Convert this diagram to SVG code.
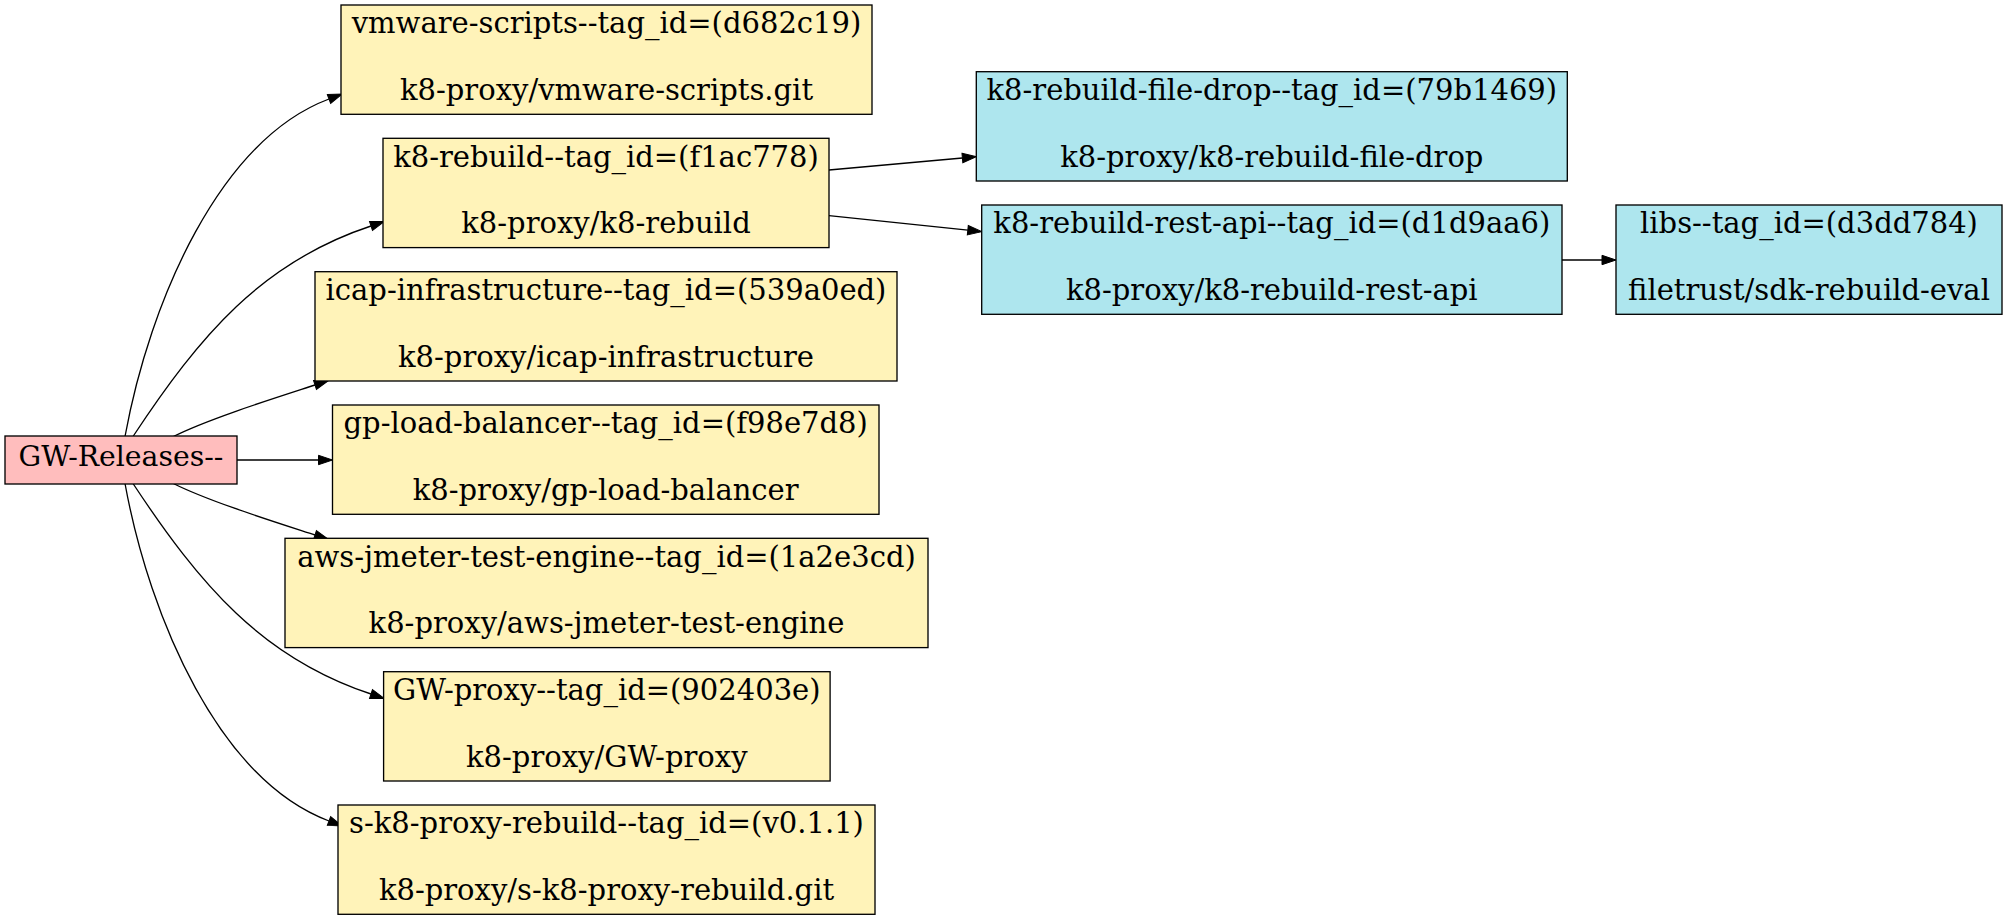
<svg xmlns="http://www.w3.org/2000/svg" width="2007" height="920" viewBox="0 0 2007 920">
<defs>
<style>
.n rect{stroke:#000;stroke-width:1.33}
.y rect{fill:#fff3b9}
.b rect{fill:#aee6ee}
.p rect{fill:#ffbdbd}
text{font-family:"DejaVu Serif","Liberation Serif",serif;font-size:29px;fill:#000;text-anchor:middle}
.p text{font-size:28.3px}
.e path{fill:none;stroke:#000;stroke-width:1.33}
</style>
<marker id="ah" markerUnits="userSpaceOnUse" markerWidth="16" markerHeight="12" refX="0" refY="5" orient="auto" viewBox="0 0 16 10" overflow="visible">
<path d="M0,0.3 L14,5 L0,9.7 z" fill="#000" stroke="#000" stroke-width="1"/>
</marker>
</defs>
<rect width="2007" height="920" fill="#fff"/>
<g id="edges" class="e">
<path marker-end="url(#ah)" d="M125,436.5 C150,300 220,140 329,99"/>
<path marker-end="url(#ah)" d="M133,436.5 C200,335 262,262 371,226"/>
<path marker-end="url(#ah)" d="M173.3,436.5 C209,418.7 272,399 315,385"/>
<path marker-end="url(#ah)" d="M237,460 L318.5,460"/>
<path marker-end="url(#ah)" d="M173.3,483.5 C209,501.3 272,521 315,535"/>
<path marker-end="url(#ah)" d="M133,483.5 C200,585 262,658 371,694"/>
<path marker-end="url(#ah)" d="M125,483.5 C150,620 220,780 329,821"/>
<path marker-end="url(#ah)" d="M829,170 L962.4,158"/>
<path marker-end="url(#ah)" d="M829,215.7 L967.8,230.2"/>
<path marker-end="url(#ah)" d="M1562,260 L1602,260"/>
</g>
<g id="gw-releases" class="n p"><rect x="5" y="436" width="232" height="48"/><text x="121" y="466">GW-Releases--</text></g>
<g id="vmware-scripts" class="n y"><rect x="341" y="5" width="531" height="109.3"/><text x="606.5" y="33.3">vmware-scripts--tag_id=(d682c19)</text><text x="606.5" y="100">k8-proxy/vmware-scripts.git</text></g>
<g id="k8-rebuild" class="n y"><rect x="383" y="138.3" width="446" height="109.3"/><text x="606" y="166.6">k8-rebuild--tag_id=(f1ac778)</text><text x="606" y="233.3">k8-proxy/k8-rebuild</text></g>
<g id="icap-infrastructure" class="n y"><rect x="315" y="271.7" width="582" height="109.3"/><text x="606" y="300">icap-infrastructure--tag_id=(539a0ed)</text><text x="606" y="366.7">k8-proxy/icap-infrastructure</text></g>
<g id="gp-load-balancer" class="n y"><rect x="332.5" y="405" width="546.5" height="109.3"/><text x="605.7" y="433.3">gp-load-balancer--tag_id=(f98e7d8)</text><text x="605.7" y="500">k8-proxy/gp-load-balancer</text></g>
<g id="aws-jmeter-test-engine" class="n y"><rect x="285" y="538.3" width="643" height="109.3"/><text x="606.5" y="566.6">aws-jmeter-test-engine--tag_id=(1a2e3cd)</text><text x="606.5" y="633.3">k8-proxy/aws-jmeter-test-engine</text></g>
<g id="gw-proxy" class="n y"><rect x="383.6" y="671.7" width="446.5" height="109.3"/><text x="606.8" y="700">GW-proxy--tag_id=(902403e)</text><text x="606.8" y="766.7">k8-proxy/GW-proxy</text></g>
<g id="s-k8-proxy-rebuild" class="n y"><rect x="338" y="805" width="537" height="109.3"/><text x="606.5" y="833.3">s-k8-proxy-rebuild--tag_id=(v0.1.1)</text><text x="606.5" y="900">k8-proxy/s-k8-proxy-rebuild.git</text></g>
<g id="k8-rebuild-file-drop" class="n b"><rect x="976.3" y="71.7" width="591" height="109.3"/><text x="1271.8" y="100">k8-rebuild-file-drop--tag_id=(79b1469)</text><text x="1271.8" y="166.7">k8-proxy/k8-rebuild-file-drop</text></g>
<g id="k8-rebuild-rest-api" class="n b"><rect x="981.7" y="205" width="580.3" height="109.3"/><text x="1271.8" y="233.3">k8-rebuild-rest-api--tag_id=(d1d9aa6)</text><text x="1271.8" y="300">k8-proxy/k8-rebuild-rest-api</text></g>
<g id="libs" class="n b"><rect x="1616" y="205" width="386" height="109.3"/><text x="1809" y="233.3">libs--tag_id=(d3dd784)</text><text x="1809" y="300">filetrust/sdk-rebuild-eval</text></g>
</svg>
